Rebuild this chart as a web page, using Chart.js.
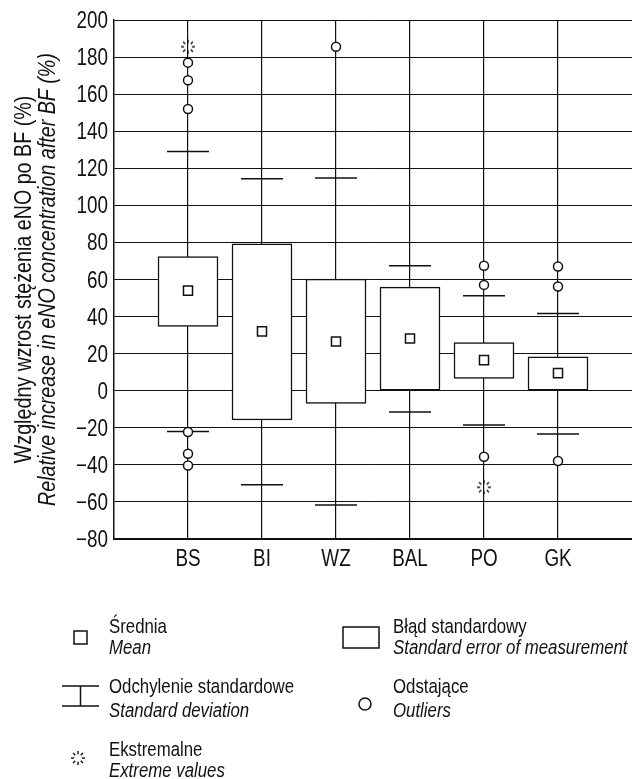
<!DOCTYPE html>
<html>
<head>
<meta charset="utf-8">
<script src="https://cdn.jsdelivr.net/npm/chart.js@4.4.1/dist/chart.umd.min.js"></script>
<style>
  html, body { margin: 0; padding: 0; background: #fff; }
  canvas { display: block; }
</style>
</head>
<body>
<canvas id="eNOChart" width="632" height="779"></canvas>
<script>
// values (relative increase of eNO after BF, %)
const categories = ['BS', 'BI', 'WZ', 'BAL', 'PO', 'GK'];
const means  = [54, 32, 26.6, 28.2, 16.5, 9.5];
const seLow  = [34.7, -15.8, -6.8, 0, 6.6, 0];
const seHigh = [72.4, 79.2, 60.2, 55.9, 26, 18.3];
const sdLow  = [-22, -50.7, -61.6, -11.5, -18.5, -23.3];
const sdHigh = [129, 114.3, 114.7, 67.4, 51.3, 41.7];
const outliers = [
  [177, 167.5, 152, -22.3, -34, -40.3],
  [],
  [185.6],
  [],
  [67.4, 57.1, -35.6],
  [67, 56.2, -37.9]
];
const extremes = [[185.6], [], [], [], [-52.1], []];
const yTicks = { min: -80, max: 200, step: 20 };

// no condensed face installed, so squeeze Liberation Sans horizontally
const FAMILY = '"Liberation Sans", Arial, sans-serif';
const SQUEEZE = 0.82;

function narrowText(ctx, text, x, y, font, align) {
  ctx.save();
  ctx.translate(x, y);
  ctx.scale(SQUEEZE, 1);
  ctx.font = font;
  ctx.textAlign = align || 'left';
  ctx.textBaseline = 'alphabetic';
  ctx.fillText(text, 0, 0);
  ctx.restore();
}

// dotted "sunburst" marker used for extreme values
function extremeGlyph(r) {
  const c = document.createElement('canvas');
  const s = Math.ceil(r * 2 + 4);
  c.width = s; c.height = s;
  const g = c.getContext('2d');
  g.strokeStyle = '#111';
  g.lineWidth = 1.4;
  for (let k = 0; k < 8; k++) {
    const a = k * Math.PI / 4;
    g.beginPath();
    g.moveTo(s / 2 + Math.cos(a) * (r * 0.55), s / 2 + Math.sin(a) * (r * 0.55));
    g.lineTo(s / 2 + Math.cos(a) * r, s / 2 + Math.sin(a) * r);
    g.stroke();
  }
  return c;
}
const extremeImg = extremeGlyph(7);

const pts = (arr) => categories.flatMap((c, i) => arr[i].map(v => ({ x: i + 1, y: v })));

const textLayer = {
  id: 'textLayer',
  afterDraw(chart) {
    const ctx = chart.ctx;
    const area = chart.chartArea;
    const xs = chart.scales.x, ys = chart.scales.y;
    ctx.save();
    ctx.fillStyle = '#111';
    ctx.strokeStyle = '#111';

    // tick labels from the scales
    ys.ticks.forEach(t => {
      const label = String(t.value).replace('-', '\u2212');
      narrowText(ctx, label, area.left - 6, ys.getPixelForValue(t.value) + 8, `23px ${FAMILY}`, 'right');
    });
    xs.ticks.forEach(t => {
      const label = categories[t.value - 1];
      if (label) narrowText(ctx, label, xs.getPixelForValue(t.value), area.bottom + 27, `23px ${FAMILY}`, 'center');
    });

    // y axis title, two lines
    const cy = (area.top + area.bottom) / 2;
    ctx.save();
    ctx.translate(31, cy);
    ctx.rotate(-Math.PI / 2);
    narrowText(ctx, 'Względny wzrost stężenia eNO po BF (%)', 0, 0, `24px ${FAMILY}`, 'center');
    ctx.restore();
    ctx.save();
    ctx.translate(55, cy);
    ctx.rotate(-Math.PI / 2);
    narrowText(ctx, 'Relative increase in eNO concentration after BF (%)', 0, 0, `italic 24px ${FAMILY}`, 'center');
    ctx.restore();

    // legend
    const F1 = `20.5px ${FAMILY}`, F2 = `italic 20.5px ${FAMILY}`;
    const text2 = (x, y1, y2, a, b) => {
      narrowText(ctx, a, x, y1, F1);
      narrowText(ctx, b, x, y2, F2);
    };
    ctx.lineWidth = 1.5;
    // mean
    ctx.strokeRect(74, 631, 13, 13);
    text2(109, 633, 654, 'Średnia', 'Mean');
    // standard deviation
    ctx.beginPath();
    ctx.moveTo(62, 686); ctx.lineTo(99, 686);
    ctx.moveTo(62, 706); ctx.lineTo(99, 706);
    ctx.moveTo(80.5, 686); ctx.lineTo(80.5, 706);
    ctx.stroke();
    text2(109, 693, 717, 'Odchylenie standardowe', 'Standard deviation');
    // extremes
    ctx.drawImage(extremeImg, 78 - extremeImg.width / 2, 758 - extremeImg.height / 2);
    text2(109, 756, 777, 'Ekstremalne', 'Extreme values');
    // standard error box
    ctx.strokeRect(343, 627, 36, 21);
    text2(393, 633, 654, 'Błąd standardowy', 'Standard error of measurement');
    // outliers
    ctx.beginPath();
    ctx.arc(365, 704, 6, 0, Math.PI * 2);
    ctx.stroke();
    text2(393, 693, 717, 'Odstające', 'Outliers');
    ctx.restore();
  }
};

new Chart(document.getElementById('eNOChart'), {
  type: 'bar',
  data: {
    datasets: [
      {
        type: 'scatter',
        label: 'Outliers',
        data: pts(outliers),
        pointStyle: 'circle',
        pointRadius: 4.5,
        backgroundColor: '#fff',
        borderColor: '#111',
        borderWidth: 1.5,
        order: 0
      },
      {
        type: 'scatter',
        label: 'Extreme values',
        data: pts(extremes),
        pointStyle: extremeImg,
        order: 1
      },
      {
        type: 'scatter',
        label: 'Mean',
        data: means.map((v, i) => ({ x: i + 1, y: v })),
        pointStyle: 'rect',
        pointRadius: 6.4,
        backgroundColor: '#fff',
        borderColor: '#111',
        borderWidth: 1.5,
        order: 2
      },
      {
        type: 'scatter',
        label: 'Standard deviation',
        data: sdHigh.map((v, i) => ({ x: i + 1, y: v })).concat(sdLow.map((v, i) => ({ x: i + 1, y: v }))),
        pointStyle: 'line',
        pointRadius: 21,
        borderColor: '#111',
        borderWidth: 1.5,
        order: 3
      },
      {
        type: 'bar',
        label: 'Standard error of measurement',
        data: seLow.map((v, i) => ({ x: i + 1, y: [v, seHigh[i]] })),
        barThickness: 60,
        backgroundColor: '#fff',
        borderColor: '#111',
        borderWidth: 1.5,
        borderSkipped: false,
        order: 4
      }
    ]
  },
  options: {
    responsive: false,
    animation: false,
    devicePixelRatio: 1,
    layout: { autoPadding: false, padding: { left: 0, top: 20, right: 0, bottom: 200 } },
    plugins: {
      legend: { display: false },
      tooltip: { enabled: false }
    },
    scales: {
      x: {
        type: 'linear',
        min: 0,
        max: categories.length + 1,
        offset: false,
        afterFit(scale) {
          scale.height = 40;
          scale.paddingLeft = 0;
          scale.paddingRight = 0;
        },
        ticks: { display: false, stepSize: 1, autoSkip: false, maxRotation: 0 },
        grid: {
          offset: false,
          drawTicks: false,
          lineWidth: 1.2,
          color: (c) => (c.tick && c.tick.value >= 1 && c.tick.value <= categories.length) ? '#111' : 'rgba(0,0,0,0)'
        },
        border: { display: true, color: '#111', width: 1.5 }
      },
      y: {
        min: yTicks.min,
        max: yTicks.max,
        afterFit(scale) {
          scale.width = 114;
          scale.paddingTop = 0;
          scale.paddingBottom = 0;
        },
        ticks: { display: false, stepSize: yTicks.step },
        grid: { drawTicks: false, color: '#111', lineWidth: 1 },
        border: { display: true, color: '#111', width: 1.5 }
      }
    }
  },
  plugins: [textLayer]
});
</script>
</body>
</html>
